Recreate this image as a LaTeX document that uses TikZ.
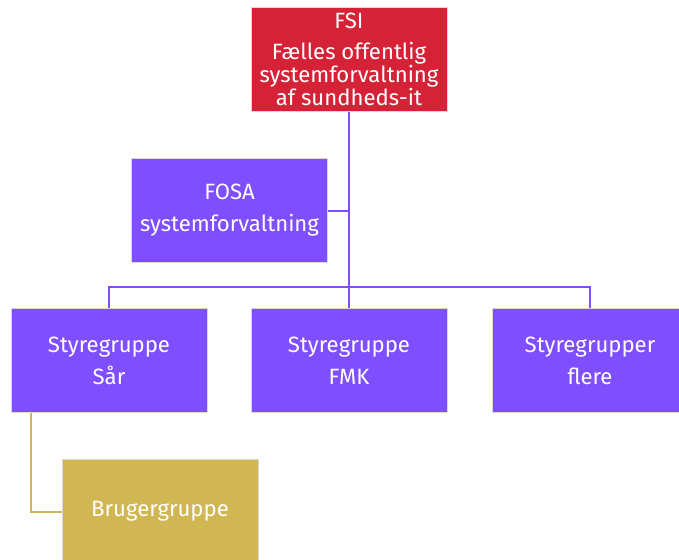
\documentclass[tikz,border=0pt]{standalone}
\usepackage{fontspec}
\setmainfont{Fira Sans}
\definecolor{fsired}{HTML}{D62236}
\definecolor{fosapurple}{HTML}{7F4FFF}
\definecolor{brugergold}{HTML}{D1B753}
\definecolor{boxedge}{HTML}{D9D9D9}
\tikzset{
	orgbox/.style={rectangle, draw=boxedge, line width=0.6pt, text=white, align=center,
		minimum width=147pt, minimum height=77.5pt, inner sep=0pt, font=\fontsize{16.6}{24}\selectfont},
	link/.style={draw=fosapurple, line width=1.5pt},
}
\begin{document}
\begin{tikzpicture}[x=0.75pt, y=-0.75pt]
		\useasboundingbox (0,0) rectangle (679,560);
		\clip (0,0) rectangle (679,560);
		% top and the staff box
		\node[orgbox, fill=fsired, font=\fontsize{16.6}{16}\selectfont] (fsi) at (349,59.5) {FSI\\[7pt]Fælles offentlig\\systemforvaltning\\af sundheds-it};
		\node[orgbox, fill=fosapurple] (fosa) at (229.5,210.5) {FOSA\\systemforvaltning};
		% steering groups
		\node[orgbox, fill=fosapurple] (sar) at (109,360.5) {Styregruppe\\Sår};
		\node[orgbox, fill=fosapurple] (fmk) at (349,360.5) {Styregruppe\\FMK};
		\node[orgbox, fill=fosapurple] (flere) at (590,360.5) {Styregrupper\\flere};
		\node[orgbox, fill=brugergold] (bruger) at (160,511.5) {Brugergruppe};
		\coordinate (bus) at (349,287);
		\draw[link] (fsi.south) -- (fmk.north);
		\draw[link] (fosa.east) -- (fosa.east -| fsi.south);
		\draw[link] (sar.north) |- (bus) -| (flere.north);
		\draw[draw=brugergold, line width=1.5pt] ([xshift=15pt]sar.south west) |- (bruger.west);
	\end{tikzpicture}
\end{document}
